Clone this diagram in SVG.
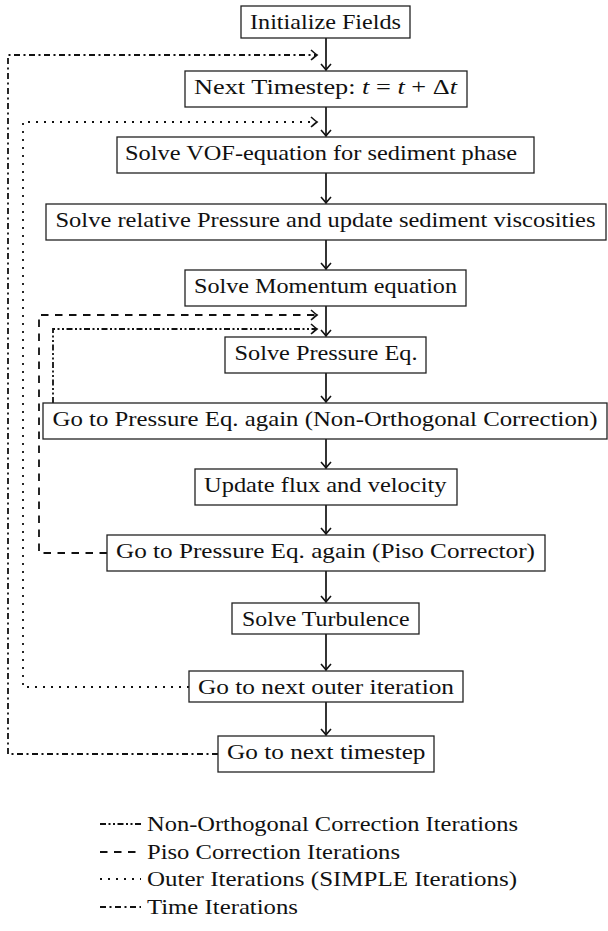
<svg xmlns="http://www.w3.org/2000/svg" width="608" height="931" viewBox="0 0 608 931">
<style>
.box{fill:#fff;stroke:#222;stroke-width:1.3}
.lbl{font-family:"Liberation Serif","Times New Roman",serif;font-size:22px;fill:#111}
.arr{fill:none;stroke:#111;stroke-width:1.7}
.loop{fill:none;stroke:#111;stroke-width:1.8}
.dd{stroke-dasharray:6 3.5 2 3.5}
.dot{stroke-dasharray:2 6}
.dash{stroke-dasharray:7.5 6.5}
.ddd{stroke-dasharray:6 2.5 2 2.5 2 2.5}
.m{font-style:italic}
</style>
<defs>
<marker id="ah" markerUnits="userSpaceOnUse" markerWidth="14" markerHeight="14" refX="0" refY="0" viewBox="-7 -7 14 14" orient="auto" overflow="visible">
<path d="M-6,-5 Q-1.5,-1 0,0 Q-1.5,1 -6,5" fill="none" stroke="#111" stroke-width="1.6" stroke-dasharray="none"/>
</marker>
</defs>
<g id="connectors">
<line class="arr" x1="326" y1="38" x2="326" y2="70" marker-end="url(#ah)"/>
<line class="arr" x1="326" y1="107" x2="326" y2="136" marker-end="url(#ah)"/>
<line class="arr" x1="326" y1="173" x2="326" y2="203" marker-end="url(#ah)"/>
<line class="arr" x1="326" y1="240" x2="326" y2="269" marker-end="url(#ah)"/>
<line class="arr" x1="326" y1="306" x2="326" y2="336" marker-end="url(#ah)"/>
<line class="arr" x1="326" y1="373" x2="326" y2="402" marker-end="url(#ah)"/>
<line class="arr" x1="326" y1="439" x2="326" y2="468" marker-end="url(#ah)"/>
<line class="arr" x1="326" y1="505" x2="326" y2="534" marker-end="url(#ah)"/>
<line class="arr" x1="326" y1="571" x2="326" y2="602" marker-end="url(#ah)"/>
<line class="arr" x1="326" y1="634" x2="326" y2="670" marker-end="url(#ah)"/>
<line class="arr" x1="326" y1="702" x2="326" y2="735" marker-end="url(#ah)"/>
<path class="loop dd" d="M218,754 H8 V55 H317" marker-end="url(#ah)"/>
<path class="loop dot" d="M189,687 H23 V122 H317" marker-end="url(#ah)"/>
<path class="loop dash" d="M107,553 H39 V315 H317" marker-end="url(#ah)"/>
<path class="loop ddd" d="M53,403 V329 H317" marker-end="url(#ah)"/>
</g>
<g id="n1"><rect class="box" x="241" y="6" width="169" height="32"/><text class="lbl" x="250" y="29" textLength="151" lengthAdjust="spacingAndGlyphs">Initialize Fields</text></g>
<g id="n2"><rect class="box" x="185" y="71" width="282" height="36"/><text class="lbl" x="194" y="94" textLength="263" lengthAdjust="spacingAndGlyphs">Next Timestep: <tspan class="m">t</tspan> = <tspan class="m">t</tspan> + Δ<tspan class="m">t</tspan></text></g>
<g id="n3"><rect class="box" x="117" y="137" width="417" height="36"/><text class="lbl" x="125" y="160" textLength="392" lengthAdjust="spacingAndGlyphs">Solve VOF-equation for sediment phase</text></g>
<g id="n4"><rect class="box" x="46" y="204" width="560" height="36"/><text class="lbl" x="55.5" y="227" textLength="540" lengthAdjust="spacingAndGlyphs">Solve relative Pressure and update sediment viscosities</text></g>
<g id="n5"><rect class="box" x="185" y="270" width="281" height="36"/><text class="lbl" x="194" y="293" textLength="263" lengthAdjust="spacingAndGlyphs">Solve Momentum equation</text></g>
<g id="n6"><rect class="box" x="225" y="337" width="201" height="36"/><text class="lbl" x="234.5" y="360" textLength="183" lengthAdjust="spacingAndGlyphs">Solve Pressure Eq.</text></g>
<g id="n7"><rect class="box" x="43" y="403" width="564" height="36"/><text class="lbl" x="52.5" y="426" textLength="545" lengthAdjust="spacingAndGlyphs">Go to Pressure Eq. again (Non-Orthogonal Correction)</text></g>
<g id="n8"><rect class="box" x="195" y="469" width="262" height="36"/><text class="lbl" x="204" y="492" textLength="242.5" lengthAdjust="spacingAndGlyphs">Update flux and velocity</text></g>
<g id="n9"><rect class="box" x="107" y="535" width="438" height="36"/><text class="lbl" x="116" y="558" textLength="419" lengthAdjust="spacingAndGlyphs">Go to Pressure Eq. again (Piso Corrector)</text></g>
<g id="n10"><rect class="box" x="232" y="603" width="187" height="31"/><text class="lbl" x="242" y="626" textLength="167.5" lengthAdjust="spacingAndGlyphs">Solve Turbulence</text></g>
<g id="n11"><rect class="box" x="189" y="671" width="274" height="31"/><text class="lbl" x="198" y="694" textLength="256" lengthAdjust="spacingAndGlyphs">Go to next outer iteration</text></g>
<g id="n12"><rect class="box" x="218" y="736" width="216" height="36"/><text class="lbl" x="227" y="759" textLength="198.5" lengthAdjust="spacingAndGlyphs">Go to next timestep</text></g>
<g id="legend">
<line class="loop ddd" x1="100" y1="824" x2="141" y2="824"/>
<text class="lbl" x="147" y="831" textLength="371" lengthAdjust="spacingAndGlyphs">Non-Orthogonal Correction Iterations</text>
<line class="loop dash" x1="100" y1="852" x2="141" y2="852"/>
<text class="lbl" x="147" y="859" textLength="253" lengthAdjust="spacingAndGlyphs">Piso Correction Iterations</text>
<line class="loop dot" x1="100" y1="879" x2="141" y2="879"/>
<text class="lbl" x="147" y="886" textLength="370" lengthAdjust="spacingAndGlyphs">Outer Iterations (SIMPLE Iterations)</text>
<line class="loop dd" x1="100" y1="907" x2="141" y2="907"/>
<text class="lbl" x="147" y="914" textLength="151" lengthAdjust="spacingAndGlyphs">Time Iterations</text>
</g>
</svg>
